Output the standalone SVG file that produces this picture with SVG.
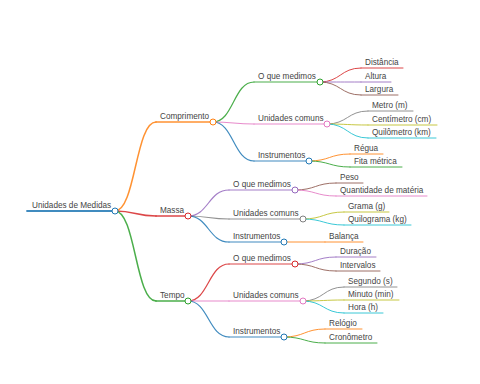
<svg xmlns="http://www.w3.org/2000/svg" width="480" height="384" viewBox="0 0 480 384">
<style>
text{font-family:"Liberation Sans",Arial,sans-serif;font-size:8.2px;fill:#444}
path,line{fill:none;stroke-linecap:round;stroke-opacity:0.85}
circle{fill:#fff;stroke-width:1}
.c0{stroke:#1f77b4}.c1{stroke:#ff7f0e}.c2{stroke:#2ca02c}.c3{stroke:#d62728}.c4{stroke:#9467bd}
.c5{stroke:#8c564b}.c6{stroke:#e377c2}.c7{stroke:#7f7f7f}.c8{stroke:#bcbd22}.c9{stroke:#17becf}
.d0{stroke-width:1.8}.d1{stroke-width:1.5}.d2{stroke-width:1.2}.d3{stroke-width:1}
</style>
<rect width="480" height="384" fill="#fff"/>
<g id="connectors">
<path class="c1 d1" d="M115,211 C135.5,211 135.5,122 156,122"/>
<path class="c3 d1" d="M115,211 C135.5,211 135.5,216 156,216"/>
<path class="c2 d1" d="M115,211 C135.5,211 135.5,301 156,301"/>
<path class="c2 d2" d="M213,122 C233.5,122 233.5,82 254,82"/>
<path class="c6 d2" d="M213,122 C233.5,122 233.5,124 254,124"/>
<path class="c0 d2" d="M213,122 C233.5,122 233.5,161 254,161"/>
<path class="c3 d3" d="M320,82 C340.5,82 340.5,68 361,68"/>
<path class="c4 d3" d="M320,82 C340.5,82 340.5,82 361,82"/>
<path class="c5 d3" d="M320,82 C340.5,82 340.5,95 361,95"/>
<path class="c7 d3" d="M327,124 C347.5,124 347.5,111 368,111"/>
<path class="c8 d3" d="M327,124 C347.5,124 347.5,125 368,125"/>
<path class="c9 d3" d="M327,124 C347.5,124 347.5,138 368,138"/>
<path class="c1 d3" d="M309,161 C329.5,161 329.5,154 350,154"/>
<path class="c2 d3" d="M309,161 C329.5,161 329.5,167 350,167"/>
<path class="c4 d2" d="M188,216 C208.5,216 208.5,190 229,190"/>
<path class="c7 d2" d="M188,216 C208.5,216 208.5,219 229,219"/>
<path class="c0 d2" d="M188,216 C208.5,216 208.5,242 229,242"/>
<path class="c5 d3" d="M295,190 C315.5,190 315.5,183 336,183"/>
<path class="c6 d3" d="M295,190 C315.5,190 315.5,196 336,196"/>
<path class="c8 d3" d="M303,219 C323.5,219 323.5,212 344,212"/>
<path class="c9 d3" d="M303,219 C323.5,219 323.5,225 344,225"/>
<path class="c1 d3" d="M284,242 L325,242"/>
<path class="c3 d2" d="M188,301 C208.5,301 208.5,264 229,264"/>
<path class="c6 d2" d="M188,301 C208.5,301 208.5,301 229,301"/>
<path class="c0 d2" d="M188,301 C208.5,301 208.5,337 229,337"/>
<path class="c4 d3" d="M295,264 C315.5,264 315.5,257 336,257"/>
<path class="c5 d3" d="M295,264 C315.5,264 315.5,271 336,271"/>
<path class="c7 d3" d="M303,301 C323.5,301 323.5,287 344,287"/>
<path class="c8 d3" d="M303,301 C323.5,301 323.5,300 344,300"/>
<path class="c9 d3" d="M303,301 C323.5,301 323.5,313 344,313"/>
<path class="c1 d3" d="M284,337 C304.5,337 304.5,329 325,329"/>
<path class="c2 d3" d="M284,337 C304.5,337 304.5,343 325,343"/>
</g>
<g id="root"><line class="c0 d0" x1="27" y1="211" x2="115" y2="211"/><text x="32" y="207.5">Unidades de Medidas</text><circle class="c0" cx="115" cy="211" r="3"/></g>
<g id="comprimento"><line class="c1 d1" x1="156" y1="122" x2="213" y2="122"/><text x="160" y="118.5">Comprimento</text><circle class="c1" cx="213" cy="122" r="3"/></g>
<g id="massa"><line class="c3 d1" x1="156" y1="216" x2="188" y2="216"/><text x="160" y="212.5">Massa</text><circle class="c3" cx="188" cy="216" r="3"/></g>
<g id="tempo"><line class="c2 d1" x1="156" y1="301" x2="188" y2="301"/><text x="160" y="297.5">Tempo</text><circle class="c2" cx="188" cy="301" r="3"/></g>
<g id="c-oque"><line class="c2 d2" x1="254" y1="82" x2="320" y2="82"/><text x="258" y="78.5">O que medimos</text><circle class="c2" cx="320" cy="82" r="3"/></g>
<g id="c-unid"><line class="c6 d2" x1="254" y1="124" x2="327" y2="124"/><text x="258" y="120.5">Unidades comuns</text><circle class="c6" cx="327" cy="124" r="3"/></g>
<g id="c-inst"><line class="c0 d2" x1="254" y1="161" x2="309" y2="161"/><text x="258" y="157.5">Instrumentos</text><circle class="c0" cx="309" cy="161" r="3"/></g>
<g id="distancia"><line class="c3 d3" x1="361" y1="68" x2="403" y2="68"/><text x="365" y="64.5">Distância</text></g>
<g id="altura"><line class="c4 d3" x1="361" y1="82" x2="391" y2="82"/><text x="365" y="78.5">Altura</text></g>
<g id="largura"><line class="c5 d3" x1="361" y1="95" x2="398" y2="95"/><text x="365" y="91.5">Largura</text></g>
<g id="metro"><line class="c7 d3" x1="368" y1="111" x2="413" y2="111"/><text x="372" y="107.5">Metro (m)</text></g>
<g id="centimetro"><line class="c8 d3" x1="368" y1="125" x2="437" y2="125"/><text x="372" y="121.5">Centímetro (cm)</text></g>
<g id="quilometro"><line class="c9 d3" x1="368" y1="138" x2="436" y2="138"/><text x="372" y="134.5">Quilômetro (km)</text></g>
<g id="regua"><line class="c1 d3" x1="350" y1="154" x2="383" y2="154"/><text x="354" y="150.5">Régua</text></g>
<g id="fita"><line class="c2 d3" x1="350" y1="167" x2="402" y2="167"/><text x="354" y="163.5">Fita métrica</text></g>
<g id="m-oque"><line class="c4 d2" x1="229" y1="190" x2="295" y2="190"/><text x="233" y="186.5">O que medimos</text><circle class="c4" cx="295" cy="190" r="3"/></g>
<g id="m-unid"><line class="c7 d2" x1="229" y1="219" x2="303" y2="219"/><text x="233" y="215.5">Unidades comuns</text><circle class="c7" cx="303" cy="219" r="3"/></g>
<g id="m-inst"><line class="c0 d2" x1="229" y1="242" x2="284" y2="242"/><text x="233" y="238.5">Instrumentos</text><circle class="c0" cx="284" cy="242" r="3"/></g>
<g id="peso"><line class="c5 d3" x1="336" y1="183" x2="363" y2="183"/><text x="340" y="179.5">Peso</text></g>
<g id="quantidade"><line class="c6 d3" x1="336" y1="196" x2="427" y2="196"/><text x="340" y="192.5">Quantidade de matéria</text></g>
<g id="grama"><line class="c8 d3" x1="344" y1="212" x2="389" y2="212"/><text x="348" y="208.5">Grama (g)</text></g>
<g id="quilograma"><line class="c9 d3" x1="344" y1="225" x2="411" y2="225"/><text x="348" y="221.5">Quilograma (kg)</text></g>
<g id="balanca"><line class="c1 d3" x1="325" y1="242" x2="363" y2="242"/><text x="329" y="238.5">Balança</text></g>
<g id="t-oque"><line class="c3 d2" x1="229" y1="264" x2="295" y2="264"/><text x="233" y="260.5">O que medimos</text><circle class="c3" cx="295" cy="264" r="3"/></g>
<g id="t-unid"><line class="c6 d2" x1="229" y1="301" x2="303" y2="301"/><text x="233" y="297.5">Unidades comuns</text><circle class="c6" cx="303" cy="301" r="3"/></g>
<g id="t-inst"><line class="c0 d2" x1="229" y1="337" x2="284" y2="337"/><text x="233" y="333.5">Instrumentos</text><circle class="c0" cx="284" cy="337" r="3"/></g>
<g id="duracao"><line class="c4 d3" x1="336" y1="257" x2="376" y2="257"/><text x="340" y="253.5">Duração</text></g>
<g id="intervalos"><line class="c5 d3" x1="336" y1="271" x2="380" y2="271"/><text x="340" y="267.5">Intervalos</text></g>
<g id="segundo"><line class="c7 d3" x1="344" y1="287" x2="397" y2="287"/><text x="348" y="283.5">Segundo (s)</text></g>
<g id="minuto"><line class="c8 d3" x1="344" y1="300" x2="399" y2="300"/><text x="348" y="296.5">Minuto (min)</text></g>
<g id="hora"><line class="c9 d3" x1="344" y1="313" x2="383" y2="313"/><text x="348" y="309.5">Hora (h)</text></g>
<g id="relogio"><line class="c1 d3" x1="325" y1="329" x2="362" y2="329"/><text x="329" y="325.5">Relógio</text></g>
<g id="cronometro"><line class="c2 d3" x1="325" y1="343" x2="377" y2="343"/><text x="329" y="339.5">Cronômetro</text></g>
</svg>
